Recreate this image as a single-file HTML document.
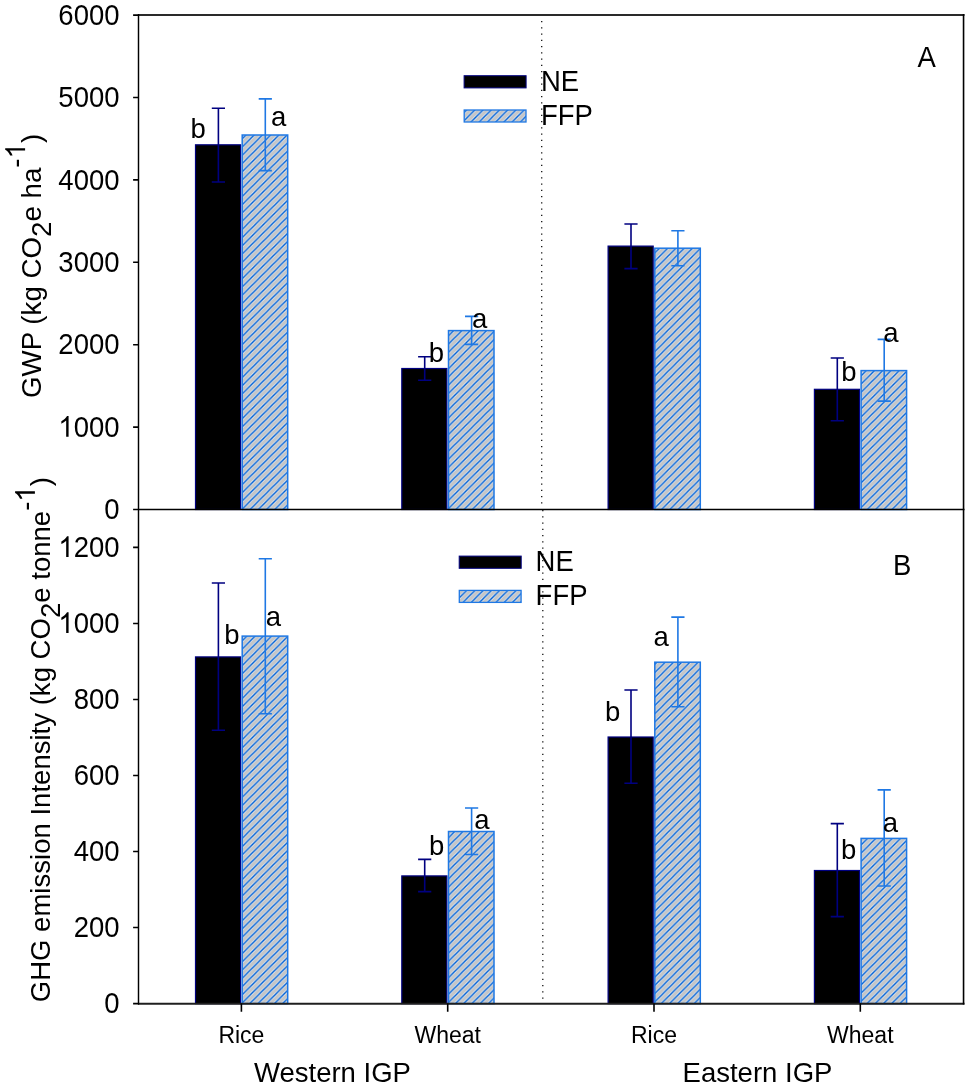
<!DOCTYPE html><html><head><meta charset="utf-8"><style>html,body{margin:0;padding:0;background:#fff;}svg{display:block;will-change:transform;}text{font-family:"Liberation Sans",sans-serif;fill:#000;}.h1{fill:none;}</style></head><body>
<svg width="968" height="1089" viewBox="0 0 968 1089">
<defs>
<pattern id="hatch" patternUnits="userSpaceOnUse" width="8.23" height="8.23" patternTransform="translate(2.4 0)"><rect width="8.23" height="8.23" fill="#c5c5c5"/><path d="M-1 1 L1 -1 M0 8.23 L8.23 0 M7.23 9.23 L9.23 7.23" stroke="#dde6f2" stroke-width="2.9"/><path d="M-1 1 L1 -1 M0 8.23 L8.23 0 M7.23 9.23 L9.23 7.23" stroke="#0060d4" stroke-width="1.35"/></pattern>
<pattern id="hatchLA" patternUnits="userSpaceOnUse" width="8.23" height="8.23" patternTransform="translate(0.4 0)"><rect width="8.23" height="8.23" fill="#c5c5c5"/><path d="M-1 1 L1 -1 M0 8.23 L8.23 0 M7.23 9.23 L9.23 7.23" stroke="#dde6f2" stroke-width="2.9"/><path d="M-1 1 L1 -1 M0 8.23 L8.23 0 M7.23 9.23 L9.23 7.23" stroke="#0060d4" stroke-width="1.35"/></pattern>
<pattern id="hatchLB" patternUnits="userSpaceOnUse" width="8.23" height="8.23" patternTransform="translate(3.7 0)"><rect width="8.23" height="8.23" fill="#c5c5c5"/><path d="M-1 1 L1 -1 M0 8.23 L8.23 0 M7.23 9.23 L9.23 7.23" stroke="#dde6f2" stroke-width="2.9"/><path d="M-1 1 L1 -1 M0 8.23 L8.23 0 M7.23 9.23 L9.23 7.23" stroke="#0060d4" stroke-width="1.35"/></pattern>
</defs>
<path d="M541.05 20.95h1.3v1.3h-1.3zM541.05 27.20h1.3v1.3h-1.3zM541.05 33.45h1.3v1.3h-1.3zM541.05 39.70h1.3v1.3h-1.3zM541.05 45.95h1.3v1.3h-1.3zM541.05 52.20h1.3v1.3h-1.3zM541.05 58.45h1.3v1.3h-1.3zM541.05 64.70h1.3v1.3h-1.3zM541.05 70.95h1.3v1.3h-1.3zM541.05 77.20h1.3v1.3h-1.3zM541.05 83.45h1.3v1.3h-1.3zM541.05 89.70h1.3v1.3h-1.3zM541.05 95.95h1.3v1.3h-1.3zM541.05 102.20h1.3v1.3h-1.3zM541.05 108.45h1.3v1.3h-1.3zM541.05 114.70h1.3v1.3h-1.3zM541.05 120.95h1.3v1.3h-1.3zM541.05 127.20h1.3v1.3h-1.3zM541.05 133.45h1.3v1.3h-1.3zM541.05 139.70h1.3v1.3h-1.3zM541.05 145.95h1.3v1.3h-1.3zM541.05 152.20h1.3v1.3h-1.3zM541.05 158.45h1.3v1.3h-1.3zM541.05 164.70h1.3v1.3h-1.3zM541.05 170.95h1.3v1.3h-1.3zM541.05 177.20h1.3v1.3h-1.3zM541.05 183.45h1.3v1.3h-1.3zM541.05 189.70h1.3v1.3h-1.3zM541.05 195.95h1.3v1.3h-1.3zM541.05 202.20h1.3v1.3h-1.3zM541.05 208.45h1.3v1.3h-1.3zM541.05 214.70h1.3v1.3h-1.3zM541.05 220.95h1.3v1.3h-1.3zM541.05 227.20h1.3v1.3h-1.3zM541.05 233.45h1.3v1.3h-1.3zM541.05 239.70h1.3v1.3h-1.3zM541.05 245.95h1.3v1.3h-1.3zM541.05 252.20h1.3v1.3h-1.3zM541.05 258.45h1.3v1.3h-1.3zM541.05 264.70h1.3v1.3h-1.3zM541.05 270.95h1.3v1.3h-1.3zM541.05 277.20h1.3v1.3h-1.3zM541.05 283.45h1.3v1.3h-1.3zM541.05 289.70h1.3v1.3h-1.3zM541.05 295.95h1.3v1.3h-1.3zM541.05 302.20h1.3v1.3h-1.3zM541.05 308.45h1.3v1.3h-1.3zM541.05 314.70h1.3v1.3h-1.3zM541.05 320.95h1.3v1.3h-1.3zM541.05 327.20h1.3v1.3h-1.3zM541.05 333.45h1.3v1.3h-1.3zM541.05 339.70h1.3v1.3h-1.3zM541.05 345.95h1.3v1.3h-1.3zM541.05 352.20h1.3v1.3h-1.3zM541.05 358.45h1.3v1.3h-1.3zM541.05 364.70h1.3v1.3h-1.3zM541.05 370.95h1.3v1.3h-1.3zM541.05 377.20h1.3v1.3h-1.3zM541.05 383.45h1.3v1.3h-1.3zM541.05 389.70h1.3v1.3h-1.3zM541.05 395.95h1.3v1.3h-1.3zM541.05 402.20h1.3v1.3h-1.3zM541.05 408.45h1.3v1.3h-1.3zM541.05 414.70h1.3v1.3h-1.3zM541.05 420.95h1.3v1.3h-1.3zM541.05 427.20h1.3v1.3h-1.3zM541.05 433.45h1.3v1.3h-1.3zM541.05 439.70h1.3v1.3h-1.3zM541.05 445.95h1.3v1.3h-1.3zM541.05 452.20h1.3v1.3h-1.3zM541.05 458.45h1.3v1.3h-1.3zM541.05 464.70h1.3v1.3h-1.3zM541.05 470.95h1.3v1.3h-1.3zM541.05 477.20h1.3v1.3h-1.3zM541.05 483.45h1.3v1.3h-1.3zM541.05 489.70h1.3v1.3h-1.3zM541.05 495.95h1.3v1.3h-1.3zM541.05 502.20h1.3v1.3h-1.3z" fill="#111"/>
<path d="M542.15 509.95h1.3v1.3h-1.3zM542.15 516.20h1.3v1.3h-1.3zM542.15 522.45h1.3v1.3h-1.3zM542.15 528.70h1.3v1.3h-1.3zM542.15 534.95h1.3v1.3h-1.3zM542.15 541.20h1.3v1.3h-1.3zM542.15 547.45h1.3v1.3h-1.3zM542.15 553.70h1.3v1.3h-1.3zM542.15 559.95h1.3v1.3h-1.3zM542.15 566.20h1.3v1.3h-1.3zM542.15 572.45h1.3v1.3h-1.3zM542.15 578.70h1.3v1.3h-1.3zM542.15 584.95h1.3v1.3h-1.3zM542.15 591.20h1.3v1.3h-1.3zM542.15 597.45h1.3v1.3h-1.3zM542.15 603.70h1.3v1.3h-1.3zM542.15 609.95h1.3v1.3h-1.3zM542.15 616.20h1.3v1.3h-1.3zM542.15 622.45h1.3v1.3h-1.3zM542.15 628.70h1.3v1.3h-1.3zM542.15 634.95h1.3v1.3h-1.3zM542.15 641.20h1.3v1.3h-1.3zM542.15 647.45h1.3v1.3h-1.3zM542.15 653.70h1.3v1.3h-1.3zM542.15 659.95h1.3v1.3h-1.3zM542.15 666.20h1.3v1.3h-1.3zM542.15 672.45h1.3v1.3h-1.3zM542.15 678.70h1.3v1.3h-1.3zM542.15 684.95h1.3v1.3h-1.3zM542.15 691.20h1.3v1.3h-1.3zM542.15 697.45h1.3v1.3h-1.3zM542.15 703.70h1.3v1.3h-1.3zM542.15 709.95h1.3v1.3h-1.3zM542.15 716.20h1.3v1.3h-1.3zM542.15 722.45h1.3v1.3h-1.3zM542.15 728.70h1.3v1.3h-1.3zM542.15 734.95h1.3v1.3h-1.3zM542.15 741.20h1.3v1.3h-1.3zM542.15 747.45h1.3v1.3h-1.3zM542.15 753.70h1.3v1.3h-1.3zM542.15 759.95h1.3v1.3h-1.3zM542.15 766.20h1.3v1.3h-1.3zM542.15 772.45h1.3v1.3h-1.3zM542.15 778.70h1.3v1.3h-1.3zM542.15 784.95h1.3v1.3h-1.3zM542.15 791.20h1.3v1.3h-1.3zM542.15 797.45h1.3v1.3h-1.3zM542.15 803.70h1.3v1.3h-1.3zM542.15 809.95h1.3v1.3h-1.3zM542.15 816.20h1.3v1.3h-1.3zM542.15 822.45h1.3v1.3h-1.3zM542.15 828.70h1.3v1.3h-1.3zM542.15 834.95h1.3v1.3h-1.3zM542.15 841.20h1.3v1.3h-1.3zM542.15 847.45h1.3v1.3h-1.3zM542.15 853.70h1.3v1.3h-1.3zM542.15 859.95h1.3v1.3h-1.3zM542.15 866.20h1.3v1.3h-1.3zM542.15 872.45h1.3v1.3h-1.3zM542.15 878.70h1.3v1.3h-1.3zM542.15 884.95h1.3v1.3h-1.3zM542.15 891.20h1.3v1.3h-1.3zM542.15 897.45h1.3v1.3h-1.3zM542.15 903.70h1.3v1.3h-1.3zM542.15 909.95h1.3v1.3h-1.3zM542.15 916.20h1.3v1.3h-1.3zM542.15 922.45h1.3v1.3h-1.3zM542.15 928.70h1.3v1.3h-1.3zM542.15 934.95h1.3v1.3h-1.3zM542.15 941.20h1.3v1.3h-1.3zM542.15 947.45h1.3v1.3h-1.3zM542.15 953.70h1.3v1.3h-1.3zM542.15 959.95h1.3v1.3h-1.3zM542.15 966.20h1.3v1.3h-1.3zM542.15 972.45h1.3v1.3h-1.3zM542.15 978.70h1.3v1.3h-1.3zM542.15 984.95h1.3v1.3h-1.3zM542.15 991.20h1.3v1.3h-1.3zM542.15 997.45h1.3v1.3h-1.3z" fill="#111"/>
<rect x="195.50" y="144.80" width="45.10" height="364.70" fill="#000" stroke="#000080" stroke-width="1.2"/>
<rect x="242.20" y="135.00" width="45.50" height="374.50" fill="url(#hatch)" stroke="#1f78e4" stroke-width="1.5"/>
<rect x="401.80" y="368.50" width="45.10" height="141.00" fill="#000" stroke="#000080" stroke-width="1.2"/>
<rect x="448.50" y="330.60" width="45.50" height="178.90" fill="url(#hatch)" stroke="#1f78e4" stroke-width="1.5"/>
<rect x="608.10" y="246.10" width="45.10" height="263.40" fill="#000" stroke="#000080" stroke-width="1.2"/>
<rect x="654.80" y="248.20" width="45.50" height="261.30" fill="url(#hatch)" stroke="#1f78e4" stroke-width="1.5"/>
<rect x="814.40" y="389.30" width="45.10" height="120.20" fill="#000" stroke="#000080" stroke-width="1.2"/>
<rect x="861.10" y="370.60" width="45.50" height="138.90" fill="url(#hatch)" stroke="#1f78e4" stroke-width="1.5"/>
<path d="M211.80 108.30H225.00M218.40 108.30V182.00M211.80 182.00H225.00" stroke="#000080" stroke-width="1.6" fill="none"/>
<path d="M258.70 98.90H271.90M265.30 98.90V170.60M258.70 170.60H271.90" stroke="#1f78e4" stroke-width="1.6" fill="none"/>
<path d="M418.10 356.80H431.30M424.70 356.80V380.30M418.10 380.30H431.30" stroke="#000080" stroke-width="1.6" fill="none"/>
<path d="M465.00 316.40H478.20M471.60 316.40V344.40M465.00 344.40H478.20" stroke="#1f78e4" stroke-width="1.6" fill="none"/>
<path d="M624.40 224.00H637.60M631.00 224.00V268.60M624.40 268.60H637.60" stroke="#000080" stroke-width="1.6" fill="none"/>
<path d="M671.30 230.70H684.50M677.90 230.70V265.80M671.30 265.80H684.50" stroke="#1f78e4" stroke-width="1.6" fill="none"/>
<path d="M830.70 358.00H843.90M837.30 358.00V420.70M830.70 420.70H843.90" stroke="#000080" stroke-width="1.6" fill="none"/>
<path d="M877.60 339.40H890.80M884.20 339.40V401.10M877.60 401.10H890.80" stroke="#1f78e4" stroke-width="1.6" fill="none"/>
<rect x="195.50" y="656.90" width="45.10" height="346.70" fill="#000" stroke="#000080" stroke-width="1.2"/>
<rect x="242.20" y="636.10" width="45.50" height="367.50" fill="url(#hatch)" stroke="#1f78e4" stroke-width="1.5"/>
<rect x="401.80" y="875.90" width="45.10" height="127.70" fill="#000" stroke="#000080" stroke-width="1.2"/>
<rect x="448.50" y="831.50" width="45.50" height="172.10" fill="url(#hatch)" stroke="#1f78e4" stroke-width="1.5"/>
<rect x="608.10" y="737.00" width="45.10" height="266.60" fill="#000" stroke="#000080" stroke-width="1.2"/>
<rect x="654.80" y="662.20" width="45.50" height="341.40" fill="url(#hatch)" stroke="#1f78e4" stroke-width="1.5"/>
<rect x="814.40" y="870.50" width="45.10" height="133.10" fill="#000" stroke="#000080" stroke-width="1.2"/>
<rect x="861.10" y="838.40" width="45.50" height="165.20" fill="url(#hatch)" stroke="#1f78e4" stroke-width="1.5"/>
<path d="M211.80 583.00H225.00M218.40 583.00V730.30M211.80 730.30H225.00" stroke="#000080" stroke-width="1.6" fill="none"/>
<path d="M258.70 558.80H271.90M265.30 558.80V713.80M258.70 713.80H271.90" stroke="#1f78e4" stroke-width="1.6" fill="none"/>
<path d="M418.10 859.40H431.30M424.70 859.40V891.60M418.10 891.60H431.30" stroke="#000080" stroke-width="1.6" fill="none"/>
<path d="M465.00 808.00H478.20M471.60 808.00V854.50M465.00 854.50H478.20" stroke="#1f78e4" stroke-width="1.6" fill="none"/>
<path d="M624.40 690.00H637.60M631.00 690.00V783.20M624.40 783.20H637.60" stroke="#000080" stroke-width="1.6" fill="none"/>
<path d="M671.30 617.10H684.50M677.90 617.10V706.70M671.30 706.70H684.50" stroke="#1f78e4" stroke-width="1.6" fill="none"/>
<path d="M830.70 823.60H843.90M837.30 823.60V916.60M830.70 916.60H843.90" stroke="#000080" stroke-width="1.6" fill="none"/>
<path d="M877.60 789.90H890.80M884.20 789.90V886.00M877.60 886.00H890.80" stroke="#1f78e4" stroke-width="1.6" fill="none"/>
<path d="M138.0 14.9H964.5" stroke="#2a2a2a" stroke-width="2" fill="none"/>
<path d="M138.0 1003.7H964.5" stroke="#1f1f1f" stroke-width="2" fill="none"/>
<path d="M138.0 509.4H964.5" stroke="#000" stroke-width="1.45" fill="none"/>
<path d="M138.5 14H138.5V1004.6" stroke="#000" stroke-width="1.45" fill="none"/>
<path d="M963.55 14H963.55V1004.6" stroke="#000" stroke-width="1.6" fill="none"/>
<path d="M133.10 509.50H138.7M133.10 427.10H138.7M133.10 344.70H138.7M133.10 262.30H138.7M133.10 179.90H138.7M133.10 97.50H138.7M133.10 15.10H138.7M133.10 1003.60H138.7M133.10 927.57H138.7M133.10 851.53H138.7M133.10 775.50H138.7M133.10 699.47H138.7M133.10 623.43H138.7M133.10 547.40H138.7M241.40 1003.6V1011.80M447.70 1003.6V1011.80M654.00 1003.6V1011.80M860.30 1003.6V1011.80" stroke="#000" stroke-width="1.6" fill="none"/>
<text transform="translate(119.5 519.10) scale(1 1.045)" font-size="27.5" text-anchor="end">0</text>
<text transform="translate(119.5 436.70) scale(1 1.045)" font-size="27.5" text-anchor="end"><tspan class="h1">1</tspan>000</text>
<text transform="translate(119.5 354.30) scale(1 1.045)" font-size="27.5" text-anchor="end">2000</text>
<text transform="translate(119.5 271.90) scale(1 1.045)" font-size="27.5" text-anchor="end">3000</text>
<text transform="translate(119.5 189.50) scale(1 1.045)" font-size="27.5" text-anchor="end">4000</text>
<text transform="translate(119.5 107.10) scale(1 1.045)" font-size="27.5" text-anchor="end">5000</text>
<text transform="translate(119.5 24.70) scale(1 1.045)" font-size="27.5" text-anchor="end">6000</text>
<text transform="translate(119.5 1013.20) scale(1 1.045)" font-size="27.5" text-anchor="end">0</text>
<text transform="translate(119.5 937.17) scale(1 1.045)" font-size="27.5" text-anchor="end">200</text>
<text transform="translate(119.5 861.13) scale(1 1.045)" font-size="27.5" text-anchor="end">400</text>
<text transform="translate(119.5 785.10) scale(1 1.045)" font-size="27.5" text-anchor="end">600</text>
<text transform="translate(119.5 709.07) scale(1 1.045)" font-size="27.5" text-anchor="end">800</text>
<text transform="translate(119.5 633.03) scale(1 1.045)" font-size="27.5" text-anchor="end"><tspan class="h1">1</tspan>000</text>
<text transform="translate(119.5 557.00) scale(1 1.045)" font-size="27.5" text-anchor="end"><tspan class="h1">1</tspan>200</text>
<text x="190.50" y="137.50" font-size="27.5">b</text>
<text x="271.00" y="125.60" font-size="27.5">a</text>
<text x="428.80" y="362.00" font-size="27.5">b</text>
<text x="472.00" y="328.20" font-size="27.5">a</text>
<text x="841.20" y="381.30" font-size="27.5">b</text>
<text x="883.30" y="341.60" font-size="27.5">a</text>
<text x="224.20" y="643.90" font-size="27.5">b</text>
<text x="265.80" y="625.60" font-size="27.5">a</text>
<text x="429.00" y="854.50" font-size="27.5">b</text>
<text x="474.30" y="829.10" font-size="27.5">a</text>
<text x="604.90" y="720.90" font-size="27.5">b</text>
<text x="653.50" y="646.00" font-size="27.5">a</text>
<text x="840.90" y="858.70" font-size="27.5">b</text>
<text x="882.70" y="831.50" font-size="27.5">a</text>
<rect x="464.10" y="75.70" width="62" height="12.2" fill="#000" stroke="#000080" stroke-width="1"/>
<rect x="464.20" y="110.00" width="61.8" height="12" fill="url(#hatchLA)" stroke="#1f78e4" stroke-width="1.3"/>
<text transform="translate(541.00 90.60) scale(1 1.045)" font-size="27.5">NE</text>
<text transform="translate(541.00 124.70) scale(1 1.045)" font-size="27.5">FFP</text>
<rect x="459.20" y="556.10" width="62" height="12.2" fill="#000" stroke="#000080" stroke-width="1"/>
<rect x="459.30" y="590.40" width="61.8" height="12" fill="url(#hatchLB)" stroke="#1f78e4" stroke-width="1.3"/>
<text transform="translate(535.60 571.00) scale(1 1.045)" font-size="27.5">NE</text>
<text transform="translate(535.60 605.10) scale(1 1.045)" font-size="27.5">FFP</text>
<text transform="translate(917.5 67.4) scale(1 1.045)" font-size="27.5">A</text>
<text transform="translate(893.0 575.2) scale(1 1.045)" font-size="27.5">B</text>
<text x="241.40" y="1042.5" font-size="23" text-anchor="middle">Rice</text>
<text x="447.70" y="1042.5" font-size="23" text-anchor="middle">Wheat</text>
<text x="654.00" y="1042.5" font-size="23" text-anchor="middle">Rice</text>
<text x="860.30" y="1042.5" font-size="23" text-anchor="middle">Wheat</text>
<text x="254.0" y="1081.6" font-size="27.5">Western IGP</text>
<text x="682.6" y="1081.6" font-size="27.5">Eastern IGP</text>
<text id="t1" transform="translate(41.1 398.0) rotate(-90)" font-size="27.7">GWP (kg CO<tspan dy="10">2</tspan><tspan dy="-10">e ha</tspan><tspan dy="-16">-</tspan><tspan class="h1">1</tspan><tspan dy="16">)</tspan></text>
<text id="t2" transform="translate(49.9 1002.3) rotate(-90)" font-size="27.56">GHG emission Intensity (kg CO<tspan dy="10">2</tspan><tspan dy="-10">e tonne</tspan><tspan dy="-15">-</tspan><tspan class="h1">1</tspan><tspan dy="15">)</tspan></text>
<path transform="translate(119.5 436.70) scale(1 1.045) translate(-61.16 0.00) scale(0.013428 -0.013428)" d="M763 0h-180v1147q-65 -62 -170.5 -124t-189.5 -93v174q151 71 264 172t160 196h116v-1472z"/>
<path transform="translate(119.5 633.03) scale(1 1.045) translate(-61.16 0.00) scale(0.013428 -0.013428)" d="M763 0h-180v1147q-65 -62 -170.5 -124t-189.5 -93v174q151 71 264 172t160 196h116v-1472z"/>
<path transform="translate(119.5 557.00) scale(1 1.045) translate(-61.16 0.00) scale(0.013428 -0.013428)" d="M763 0h-180v1147q-65 -62 -170.5 -124t-189.5 -93v174q151 71 264 172t160 196h116v-1472z"/>
<path transform="translate(41.1 398.0) rotate(-90) translate(239.55 -16.00) scale(0.013525 -0.013525)" d="M763 0h-180v1147q-65 -62 -170.5 -124t-189.5 -93v174q151 71 264 172t160 196h116v-1472z"/>
<path transform="translate(49.9 1002.3) rotate(-90) translate(500.67 -15.00) scale(0.013457 -0.013457)" d="M763 0h-180v1147q-65 -62 -170.5 -124t-189.5 -93v174q151 71 264 172t160 196h116v-1472z"/>
</svg></body></html>
